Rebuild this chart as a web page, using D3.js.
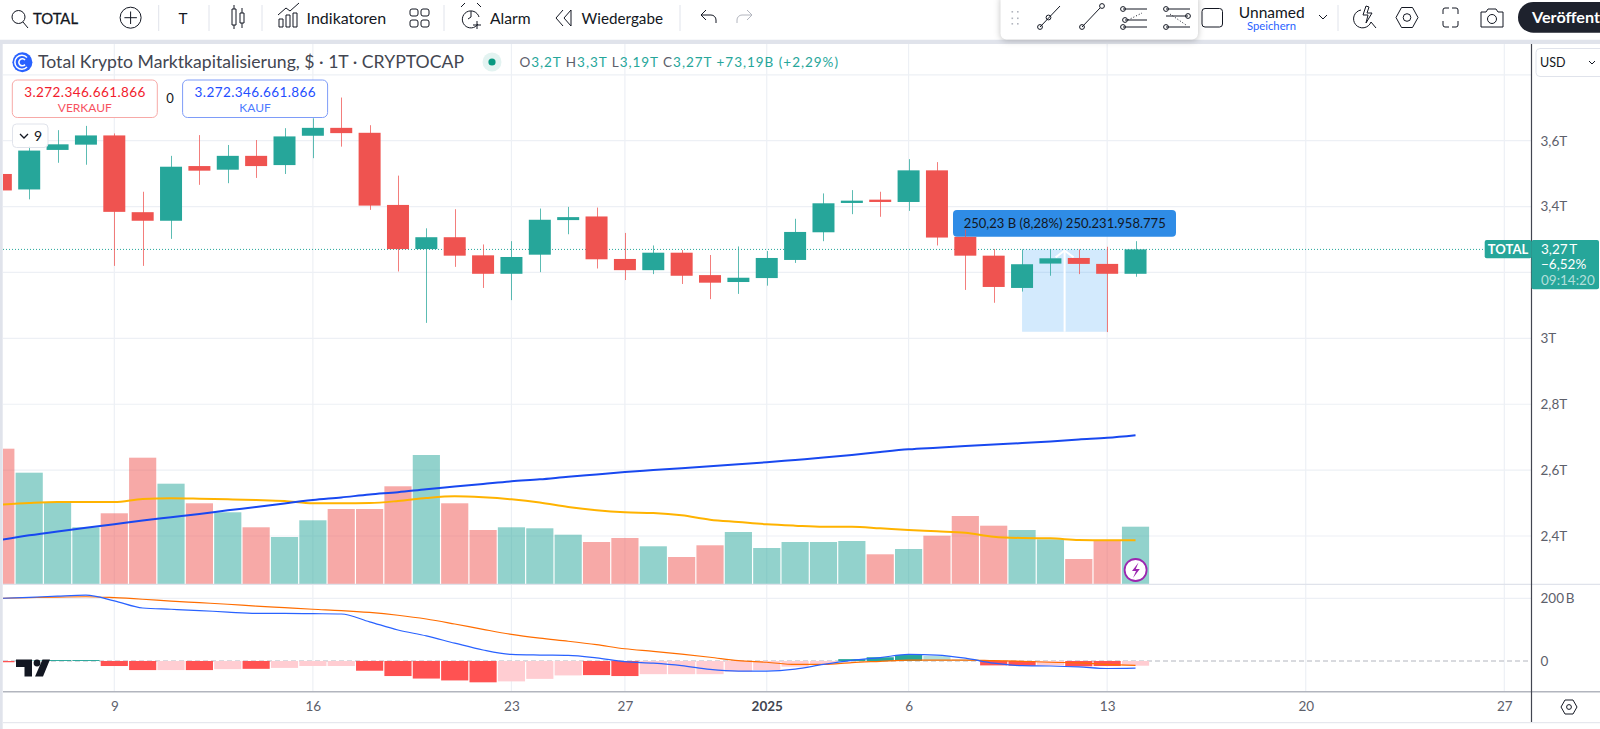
<!DOCTYPE html>
<html>
<head>
<meta charset="utf-8">
<script src="https://cdn.jsdelivr.net/npm/d3@7"></script>
<style>
  html, body { margin: 0; padding: 0; background: #fff; }
  svg { display: block; font-family: Lato, "Open Sans", sans-serif; }
  .axis text { font-size: 13.5px; fill: #5d606b; font-family: Lato, sans-serif; }
  .axis path, .axis line { display: none; }
  .icon { fill: none; stroke: #131722; stroke-width: 1; }
</style>
</head>
<body>
<svg id="chart" width="1600" height="729"></svg>
<script>
'use strict';
// date, open, high, low, close (T), volume, volume MA, price MA (T), hist (B), faded, macd (B), signal (B)
const rows = [
  ['2024-12-05', 3.499, 3.505, 3.449, 3.449, 135.3, 79.3, 2.388, -4, 0, 200, 200],
  ['2024-12-06', 3.452, 3.584, 3.422, 3.570, 111.3, 81.0, 2.402, 1.5, 0, 203, 202],
  ['2024-12-07', 3.572, 3.632, 3.533, 3.589, 81.0, 82.0, 2.414, 3, 0, 207, 204],
  ['2024-12-08', 3.588, 3.645, 3.527, 3.616, 56.7, 82.0, 2.425, 3, 0, 210, 205],
  ['2024-12-09', 3.616, 3.622, 3.220, 3.384, 70.7, 82.0, 2.436, -16, 0, 192, 202],
  ['2024-12-10', 3.383, 3.445, 3.220, 3.357, 126.3, 85.0, 2.447, -29, 0, 169, 197],
  ['2024-12-11', 3.357, 3.554, 3.302, 3.521, 100.3, 85.7, 2.457, -29, 1, 165, 191],
  ['2024-12-12', 3.523, 3.617, 3.466, 3.509, 80.7, 85.3, 2.467, -29, 0, 161, 186],
  ['2024-12-13', 3.512, 3.587, 3.471, 3.554, 71.7, 84.7, 2.478, -26, 1, 156, 181],
  ['2024-12-14', 3.554, 3.602, 3.487, 3.523, 56.7, 84.0, 2.488, -25, 0, 152, 175],
  ['2024-12-15', 3.526, 3.638, 3.499, 3.613, 47.0, 83.0, 2.499, -22, 1, 152, 170],
  ['2024-12-16', 3.615, 3.668, 3.547, 3.639, 63.7, 80.7, 2.509, -16, 1, 151, 165],
  ['2024-12-17', 3.639, 3.731, 3.582, 3.623, 75.0, 80.7, 2.517, -16, 1, 150, 161],
  ['2024-12-18', 3.624, 3.647, 3.390, 3.403, 75.0, 81.0, 2.526, -31, 0, 125, 155],
  ['2024-12-19', 3.405, 3.494, 3.203, 3.271, 97.7, 83.0, 2.533, -48, 0, 99, 146],
  ['2024-12-20', 3.271, 3.334, 3.047, 3.307, 129.0, 86.0, 2.542, -56, 0, 80, 134],
  ['2024-12-21', 3.307, 3.392, 3.217, 3.251, 80.7, 87.7, 2.550, -62, 0, 57, 118],
  ['2024-12-22', 3.252, 3.285, 3.153, 3.196, 54.0, 86.7, 2.558, -68, 0, 35, 101],
  ['2024-12-23', 3.196, 3.295, 3.116, 3.247, 56.7, 84.7, 2.566, -65, 1, 21, 85],
  ['2024-12-24', 3.254, 3.394, 3.201, 3.360, 55.7, 81.5, 2.572, -57, 1, 19, 73],
  ['2024-12-25', 3.359, 3.399, 3.316, 3.368, 49.3, 77.0, 2.580, -46, 1, 18, 63],
  ['2024-12-26', 3.370, 3.397, 3.212, 3.240, 42.0, 73.7, 2.587, -45, 0, 10, 52],
  ['2024-12-27', 3.241, 3.320, 3.177, 3.207, 46.0, 71.7, 2.594, -48, 0, -2, 39],
  ['2024-12-28', 3.207, 3.282, 3.195, 3.260, 37.7, 71.0, 2.600, -42, 1, -7, 31],
  ['2024-12-29', 3.260, 3.268, 3.165, 3.190, 27.0, 68.7, 2.606, -42, 1, -15, 22],
  ['2024-12-30', 3.192, 3.253, 3.119, 3.169, 38.7, 64.3, 2.612, -42, 1, -27, 12],
  ['2024-12-31', 3.171, 3.279, 3.135, 3.184, 52.0, 62.0, 2.618, -34, 1, -32, 1],
  ['2025-01-01', 3.183, 3.265, 3.160, 3.244, 36.0, 59.7, 2.624, -29, 1, -32, -4],
  ['2025-01-02', 3.238, 3.363, 3.229, 3.323, 42.0, 58.3, 2.631, -18, 1, -26, -11],
  ['2025-01-03', 3.322, 3.440, 3.295, 3.410, 42.0, 57.3, 2.638, -9, 1, -11, -11],
  ['2025-01-04', 3.411, 3.450, 3.377, 3.418, 43.0, 57.3, 2.646, 6, 0, 2, -5],
  ['2025-01-05', 3.421, 3.445, 3.369, 3.414, 29.7, 55.7, 2.655, 12, 0, 11, -1],
  ['2025-01-06', 3.414, 3.544, 3.387, 3.510, 35.0, 54.0, 2.663, 19, 0, 21, 3],
  ['2025-01-07', 3.510, 3.535, 3.282, 3.306, 48.3, 52.7, 2.668, 16, 1, 19, 3],
  ['2025-01-08', 3.308, 3.331, 3.147, 3.251, 68.0, 51.3, 2.673, 5, 1, 9, 3],
  ['2025-01-09', 3.251, 3.271, 3.108, 3.156, 58.3, 47.3, 2.678, -14, 0, -7, 1],
  ['2025-01-10', 3.153, 3.270, 3.142, 3.225, 54.0, 46.0, 2.682, -15, 0, -15, -1],
  ['2025-01-11', 3.227, 3.270, 3.190, 3.243, 44.7, 45.7, 2.687, -14, 1, -16, -4],
  ['2025-01-12', 3.244, 3.270, 3.195, 3.226, 25.0, 44.0, 2.693, -17, 0, -19, -6],
  ['2025-01-13', 3.226, 3.278, 3.019, 3.196, 43.3, 43.7, 2.698, -16, 0, -24, -11],
  ['2025-01-14', 3.196, 3.295, 3.187, 3.270, 57.3, 43.7, 2.706, -15, 1, -23, -14],
];
const parseDay = d3.utcParse('%Y-%m-%d');
const data = rows.map((r) => ({
  date: parseDay(r[0]), open: r[1], high: r[2], low: r[3], close: r[4],
  vol: r[5], volMa: r[6], ma: r[7], hist: r[8], faded: r[9], macd: r[10], signal: r[11],
}));

const green = '#26a69a';
const red = '#ef5350';
const grid = '#edf0f5';
const band = '#e0e3eb';
const plotR = 1531.5;

const svg = d3.select('#chart');
const xScale = d3.scaleUtc()
  .domain([parseDay('2024-12-09'), parseDay('2025-01-27')])
  .range([114.3, 1504.3]);
const yScale = d3.scaleLinear().domain([3.6, 2.4]).range([140.7, 536]);
const volScale = d3.scaleLinear().domain([0, 144]).range([584, 440]);
const macdScale = d3.scaleLinear().domain([200, 0]).range([598.3, 661]);
const dayW = xScale(parseDay('2024-12-10')) - xScale(parseDay('2024-12-09'));
const isUp = (d) => d.close >= d.open;
const comma = (d) => String(d).replace('.', ',');

svg.append('defs').append('clipPath').attr('id', 'plot')
  .append('rect').attr('x', 3).attr('y', 44).attr('width', plotR - 3).attr('height', 648);

// gridlines
const tickDays = ['2024-12-09', '2024-12-16', '2024-12-23', '2024-12-27', '2025-01-01',
  '2025-01-06', '2025-01-13', '2025-01-20', '2025-01-27'].map(parseDay);
const priceTicks = [3.8, 3.6, 3.4, 3.2, 3.0, 2.8, 2.6, 2.4];
const gridG = svg.append('g').attr('stroke', grid).attr('stroke-width', 1.2);
gridG.selectAll('.v').data(tickDays).enter().append('line')
  .attr('x1', (d) => xScale(d)).attr('x2', (d) => xScale(d)).attr('y1', 44).attr('y2', 691);
gridG.selectAll('.h').data(priceTicks).enter().append('line')
  .attr('x1', 3).attr('x2', plotR).attr('y1', (d) => yScale(d)).attr('y2', (d) => yScale(d));
gridG.append('line').attr('x1', 3).attr('x2', plotR)
  .attr('y1', macdScale(200)).attr('y2', macdScale(200));

const plot = svg.append('g').attr('clip-path', 'url(#plot)');

// volume bars
plot.append('g').selectAll('rect').data(data).enter().append('rect')
  .attr('x', (d) => xScale(d.date) - dayW / 2 + 0.6)
  .attr('width', dayW - 1.2)
  .attr('y', (d) => volScale(d.vol))
  .attr('height', (d) => volScale(0) - volScale(d.vol))
  .attr('fill', (d) => (isUp(d) ? green : red))
  .attr('opacity', 0.5);

// price MA and volume MA
plot.append('path').datum(data)
  .attr('fill', 'none').attr('stroke', '#ffb300').attr('stroke-width', 2)
  .attr('d', d3.line().curve(d3.curveMonotoneX)
    .x((d) => xScale(d.date)).y((d) => volScale(d.volMa)));
plot.append('path').datum(data)
  .attr('fill', 'none').attr('stroke', '#1848f0').attr('stroke-width', 2)
  .attr('d', d3.line().curve(d3.curveMonotoneX)
    .x((d) => xScale(d.date)).y((d) => yScale(d.ma)));

// last price line
svg.append('line').attr('x1', 3).attr('x2', plotR)
  .attr('y1', yScale(3.27)).attr('y2', yScale(3.27))
  .attr('stroke', green).attr('stroke-dasharray', '1 2');

// measure label sits under the candle wick
svg.append('rect').attr('x', 953).attr('y', 210).attr('width', 223).attr('height', 26.7)
  .attr('rx', 4).attr('fill', '#2f8ce6');
svg.append('text').attr('x', 963.7).attr('y', 228).attr('font-size', 13).attr('fill', '#131722')
  .attr('textLength', 202).attr('lengthAdjust', 'spacingAndGlyphs')
  .text('250,23 B (8,28%) 250.231.958.775');

// measured range, Jan 10 to Jan 13
const rangeL = xScale(parseDay('2025-01-10'));
const rangeR = xScale(parseDay('2025-01-13'));
const rangeTop = yScale(3.27);
const rangeBot = yScale(3.02);
const rangeMid = (rangeL + rangeR) / 2;
svg.append('rect').attr('x', rangeL).attr('width', rangeR - rangeL)
  .attr('y', rangeTop).attr('height', rangeBot - rangeTop)
  .attr('fill', '#2196f3').attr('opacity', 0.2);
svg.append('line').attr('x1', rangeMid).attr('x2', rangeMid)
  .attr('y1', rangeBot).attr('y2', rangeTop + 1).attr('stroke', '#fff').attr('stroke-width', 2);
svg.append('path')
  .attr('d', `M${rangeMid - 9} ${rangeTop + 8}L${rangeMid} ${rangeTop + 1}L${rangeMid + 9} ${rangeTop + 8}`)
  .attr('fill', 'none').attr('stroke', '#fff').attr('stroke-width', 2);

// candles
const candles = svg.append('g').attr('clip-path', 'url(#plot)')
  .selectAll('g').data(data).enter().append('g')
  .attr('fill', (d) => (isUp(d) ? green : red))
  .attr('stroke', (d) => (isUp(d) ? green : red));
candles.append('line')
  .attr('x1', (d) => Math.round(xScale(d.date)) + 0.5)
  .attr('x2', (d) => Math.round(xScale(d.date)) + 0.5)
  .attr('y1', (d) => yScale(d.high))
  .attr('y2', (d) => yScale(d.low))
  .attr('stroke-opacity', 0.75);
candles.append('rect')
  .attr('stroke', 'none')
  .attr('x', (d) => xScale(d.date) - 11)
  .attr('width', 22)
  .attr('y', (d) => yScale(Math.max(d.open, d.close)))
  .attr('height', (d) => Math.max(2, Math.abs(yScale(d.open) - yScale(d.close))));

// macd panel
svg.append('line').attr('x1', 3).attr('x2', plotR)
  .attr('y1', macdScale(0)).attr('y2', macdScale(0))
  .attr('stroke', '#b2b5be').attr('stroke-dasharray', '5 3');
const macdG = svg.append('g').attr('clip-path', 'url(#plot)');
macdG.append('g').selectAll('rect').data(data).enter().append('rect')
  .attr('x', (d) => xScale(d.date) - dayW / 2 + 0.6)
  .attr('width', dayW - 1.2)
  .attr('y', (d) => Math.min(macdScale(d.hist), macdScale(0)))
  .attr('height', (d) => Math.abs(macdScale(d.hist) - macdScale(0)))
  .attr('fill', (d) => {
    if (d.hist >= 0) return d.faded ? '#b2dfdb' : green;
    return d.faded ? '#ffcdd2' : '#ff5252';
  });
macdG.append('path').datum(data)
  .attr('fill', 'none').attr('stroke', '#ff6d00').attr('stroke-width', 1.2)
  .attr('d', d3.line().curve(d3.curveMonotoneX)
    .x((d) => xScale(d.date)).y((d) => macdScale(d.signal)));
macdG.append('path').datum(data)
  .attr('fill', 'none').attr('stroke', '#2962ff').attr('stroke-width', 1.2)
  .attr('d', d3.line().curve(d3.curveMonotoneX)
    .x((d) => xScale(d.date)).y((d) => macdScale(d.macd)));

// tv logo
const logo = svg.append('g').attr('fill', '#131722');
logo.append('path').attr('d', 'M16 659.5h16v17h-7.5v-9.5H16z');
logo.append('circle').attr('cx', 37).attr('cy', 663).attr('r', 3.4);
logo.append('path').attr('d', 'M42.5 659.5h7.5l-7 17h-8z');

// lightning badge
svg.append('circle').attr('cx', 1135.6).attr('cy', 570).attr('r', 11)
  .attr('fill', '#fff').attr('stroke', '#9c27b0').attr('stroke-width', 1.8);
svg.append('path').attr('d', 'M1138.5 562.5l-6.5 8.5h4l-3 7 6.8-9h-4z').attr('fill', '#9c27b0');

// frame
svg.append('rect').attr('x', 0).attr('y', 39.5).attr('width', 1600).attr('height', 4.5).attr('fill', band);
svg.append('rect').attr('x', 0).attr('y', 44).attr('width', 2.7).attr('height', 685).attr('fill', band);
svg.append('line').attr('x1', 3).attr('x2', 1600).attr('y1', 584.3).attr('y2', 584.3)
  .attr('stroke', band).attr('stroke-width', 1.2);
svg.append('line').attr('x1', 3).attr('x2', 1600).attr('y1', 691.7).attr('y2', 691.7)
  .attr('stroke', '#b2b5be').attr('stroke-width', 1.5);
svg.append('line').attr('x1', 3).attr('x2', 1600).attr('y1', 722.7).attr('y2', 722.7)
  .attr('stroke', band).attr('stroke-width', 1);
svg.append('line').attr('x1', plotR).attr('x2', plotR).attr('y1', 44).attr('y2', 722)
  .attr('stroke', '#434651').attr('stroke-width', 1.2);

// axes
svg.append('g').attr('class', 'axis')
  .attr('transform', 'translate(0,698)')
  .call(d3.axisBottom(xScale).tickValues(tickDays).tickSize(0).tickPadding(3)
    .tickFormat((d) => (d.getUTCMonth() === 0 && d.getUTCDate() === 1 ? '2025' : d.getUTCDate())))
  .selectAll('text')
  .attr('font-weight', (d) => (d.getUTCDate() === 1 ? 700 : 400))
  .style('fill', (d) => (d.getUTCDate() === 1 ? '#434651' : '#5d606b'));
svg.append('g').attr('class', 'axis')
  .attr('transform', `translate(${plotR},0)`)
  .call(d3.axisRight(yScale).tickValues([3.6, 3.4, 3.0, 2.8, 2.6, 2.4]).tickSize(0).tickPadding(9)
    .tickFormat((d) => `${comma(d3.format('.1~f')(d))}T`));
svg.append('g').attr('class', 'axis')
  .attr('transform', `translate(${plotR},0)`)
  .call(d3.axisRight(macdScale).tickValues([200, 0]).tickSize(0).tickPadding(9)
    .tickFormat((d) => (d ? `${d}\u2009B` : '0')));

// price tags
svg.append('rect').attr('x', 1484.7).attr('y', 240).attr('width', 47).attr('height', 18.3)
  .attr('rx', 2).attr('fill', green);
svg.append('text').attr('x', 1508).attr('y', 254).attr('text-anchor', 'middle')
  .attr('font-size', 13).attr('font-weight', 700).attr('fill', '#fff').text('TOTAL');
svg.append('rect').attr('x', plotR).attr('y', 240).attr('width', 67.5).attr('height', 49.3)
  .attr('rx', 2).attr('fill', green);
[['3,27\u2009T', 253.5, '#fff'], ['−6,52%', 269, '#fff'], ['09:14:20', 285, '#b2dfdb']].forEach((t) => {
  svg.append('text').attr('x', 1541).attr('y', t[1]).attr('font-size', 13.5).attr('fill', t[2]).text(t[0]);
});

// usd box
svg.append('rect').attr('x', 1536).attr('y', 48.5).attr('width', 70).attr('height', 28)
  .attr('rx', 4).attr('fill', '#fff').attr('stroke', band);
svg.append('text').attr('x', 1540).attr('y', 67).attr('font-size', 12.5).attr('fill', '#131722').text('USD');
svg.append('path').attr('d', 'M1589 61l3 3l3-3').attr('fill', 'none').attr('stroke', '#131722');

// legend
svg.append('circle').attr('cx', 22.4).attr('cy', 62.3).attr('r', 10).attr('fill', '#2962ff');
svg.append('path').attr('d', 'M27 57.5a7 7 0 1 0 0 9.5M25 60a3.5 3.5 0 1 0 0 4.6')
  .attr('fill', 'none').attr('stroke', '#fff').attr('stroke-width', 1.6);
svg.append('text').attr('x', 38).attr('y', 68).attr('font-size', 16.5).attr('fill', '#434651')
  .attr('textLength', 426).attr('lengthAdjust', 'spacingAndGlyphs')
  .text('Total Krypto Marktkapitalisierung, $ · 1T · CRYPTOCAP');
svg.append('circle').attr('cx', 492).attr('cy', 62).attr('r', 9.5).attr('fill', '#e3f3f1');
svg.append('circle').attr('cx', 492).attr('cy', 62).attr('r', 3.6).attr('fill', '#089981');
const ohlc = svg.append('text').attr('x', 519.4).attr('y', 66.5).attr('font-size', 13.5)
  .attr('textLength', 318.6).attr('lengthAdjust', 'spacing');
[['O', '#5d606b'], ['3,2T ', green], ['H', '#5d606b'], ['3,3T ', green], ['L', '#5d606b'], ['3,19T ', green],
  ['C', '#5d606b'], ['3,27T ', green], ['+73,19B (+2,29%)', green]].forEach((t) => {
  ohlc.append('tspan').attr('fill', t[1]).text(t[0]);
});

// sell and buy boxes
const orderBox = (x, stroke, c1, c2, label) => {
  svg.append('rect').attr('x', x).attr('y', 80).attr('width', 145).attr('height', 37.5)
    .attr('rx', 5).attr('fill', '#fff').attr('stroke', stroke);
  svg.append('text').attr('x', x + 72.5).attr('y', 97).attr('text-anchor', 'middle')
    .attr('font-size', 13.5).attr('fill', c1)
    .attr('textLength', 121).attr('lengthAdjust', 'spacing').text('3.272.346.661.866');
  svg.append('text').attr('x', x + 72.5).attr('y', 112).attr('text-anchor', 'middle')
    .attr('font-size', 12).attr('fill', c2).text(label);
};
orderBox(12.3, '#f7a9a7', '#f21c2d', '#f7525f', 'VERKAUF');
orderBox(182.6, '#7e9cf8', '#1f4fff', '#4e7bff', 'KAUF');
svg.append('text').attr('x', 170).attr('y', 102.5).attr('text-anchor', 'middle')
  .attr('font-size', 13).attr('fill', '#131722').text('0');
svg.append('rect').attr('x', 12.5).attr('y', 124).attr('width', 35.5).attr('height', 23.5)
  .attr('rx', 4).attr('fill', '#fff').attr('fill-opacity', 0.9).attr('stroke', band);
svg.append('path').attr('d', 'M20 134l4 4l4-4').attr('fill', 'none').attr('stroke', '#131722').attr('stroke-width', 1.3);
svg.append('text').attr('x', 34).attr('y', 141).attr('font-size', 14).attr('fill', '#131722').text('9');

// top toolbar
const bar = svg.append('g');
bar.append('rect').attr('width', 1600).attr('height', 39.5).attr('fill', '#fff');
bar.append('rect').attr('x', 1000.5).attr('y', -6).attr('width', 197.5).attr('height', 45.5)
  .attr('rx', 6).attr('fill', '#fff').style('filter', 'drop-shadow(0 1px 3px rgba(0,0,0,.25))');
[158.7, 209, 262, 444, 680, 1338].forEach((x) => {
  bar.append('line').attr('x1', x).attr('x2', x).attr('y1', 5).attr('y2', 31).attr('stroke', band);
});
const label = (x, y, size, txt, w, fill = '#131722', weight = 400) => bar.append('text')
  .attr('x', x).attr('y', y).attr('font-size', size).attr('fill', fill).attr('font-weight', weight)
  .attr('textLength', w).attr('lengthAdjust', 'spacingAndGlyphs').text(txt);
label(33, 23.5, 15.5, 'TOTAL', 45, '#131722', 700).attr('font-weight', 400).attr('stroke', '#131722').attr('stroke-width', 0.3);
label(178.5, 23.5, 15, 'T', 9);
label(306.6, 23.5, 15, 'Indikatoren', 79.6);
label(490, 23.5, 15, 'Alarm', 40.6);
label(581.6, 23.5, 15, 'Wiedergabe', 81.4);
label(1238.8, 18, 15, 'Unnamed', 66);
label(1247, 30, 11, 'Speichern', 49, '#2962ff');

const icon = (d) => bar.append('path').attr('class', 'icon').attr('d', d);
// search
icon('M25 17a6.5 6.5 0 1 1-13 0a6.5 6.5 0 1 1 13 0M23 22l5 6');
// plus
bar.append('circle').attr('class', 'icon').attr('cx', 130.6).attr('cy', 17.7).attr('r', 10.5);
icon('M130.6 11.5v12.5M124.4 17.7h12.5');
// candles
icon('M232 9h4v16h-4zM240 13h4v10h-4zM234 5v4M234 25v4M242 8v5M242 23v5');
// indicators
icon('M279 27h4v-8h-4zM286 27h4v-12h-4zM293 27h4v-14h-4zM278 15l8-7l4 3l9-8');
// layouts
[[410, 9], [421, 9], [410, 20], [421, 20]].forEach((p) => {
  bar.append('rect').attr('class', 'icon').attr('x', p[0]).attr('y', p[1]).attr('width', 8).attr('height', 7).attr('rx', 2);
});
// alarm
bar.append('path').attr('class', 'icon').attr('d', 'M478 24a8.5 8.5 0 1 1 1-7');
icon('M471 11v6l-3 2M461 7l4-4M481 7l-4-4M477 21v8M473 25h8');
// rewind
icon('M563 10l-7 8l7 8M571 10l-7 8l7 8z');
// undo, redo
icon('M701 15h10a5 5 0 0 1 5 5v3M701 15l5-5M701 15l5 5');
bar.append('path').attr('class', 'icon').style('stroke', '#b2b5be').attr('d', 'M752 15h-10a5 5 0 0 0-5 5v3M752 15l-5-5M752 15l-5 5');

// floating drawing toolbar
[[1011.5, 11], [1017, 11], [1011.5, 17.5], [1017, 17.5], [1011.5, 23], [1017, 23]].forEach((p) => {
  bar.append('rect').attr('x', p[0]).attr('y', p[1]).attr('width', 1.6).attr('height', 1.6).attr('fill', '#b2b5be');
});
const dot = (x, y) => bar.append('circle').attr('class', 'icon').attr('cx', x).attr('cy', y).attr('r', 2.4).attr('fill', '#fff');
icon('M1040 27L1060 6');
dot(1040, 27); dot(1048.5, 17.5);
icon('M1082 27L1100 8');
dot(1082, 27); dot(1102, 6);
icon('M1123 9h24M1125 20h22M1123 27h24');
dot(1123, 9); dot(1125, 20); dot(1123, 27);
bar.append('path').attr('d', 'M1128 20L1142 13').attr('stroke', '#131722').attr('stroke-dasharray', '1 2');
icon('M1166 9h24M1166 16h22M1166 27h24');
dot(1166, 9); dot(1188, 16); dot(1166, 27);
bar.append('path').attr('d', 'M1170 14L1186 25').attr('stroke', '#131722').attr('stroke-dasharray', '1 2');
bar.append('rect').attr('class', 'icon').attr('x', 1202).attr('y', 8.5).attr('width', 20.5).attr('height', 18.5).attr('rx', 3);
icon('M1319 15l4 4l4-4');
// lightning search, settings, fullscreen, camera
icon('M1361 10a9 9 0 1 0 10 12M1371 22l5 6M1366 6l-3 9h5l-2 8l6-10h-5l2-6z');
icon('M1396 17.5l5.5-10h11l5.5 10l-5.5 10h-11z');
bar.append('circle').attr('class', 'icon').attr('cx', 1407).attr('cy', 17.5).attr('r', 3.8);
icon('M1443 14v-4a2 2 0 0 1 2-2h4M1452 8h4a2 2 0 0 1 2 2v4M1458 21v4a2 2 0 0 1-2 2h-4M1449 27h-4a2 2 0 0 1-2-2v-4');
icon('M1481 12h5l2-3h8l2 3h5v15h-22z');
bar.append('circle').attr('class', 'icon').attr('cx', 1492).attr('cy', 19).attr('r', 4.5);
// publish button
bar.append('rect').attr('x', 1518).attr('y', 2).attr('width', 110).attr('height', 30.7).attr('rx', 15.3).attr('fill', '#1e222d');
label(1532, 23, 14.5, 'Veröffent', 68, '#fff', 700);

// settings under the price axis
svg.append('path').attr('class', 'icon').attr('d', 'M1561 707l4-7h8l4 7l-4 7h-8z');
svg.append('circle').attr('class', 'icon').attr('cx', 1569).attr('cy', 707).attr('r', 2.4);
</script>
</body>
</html>
